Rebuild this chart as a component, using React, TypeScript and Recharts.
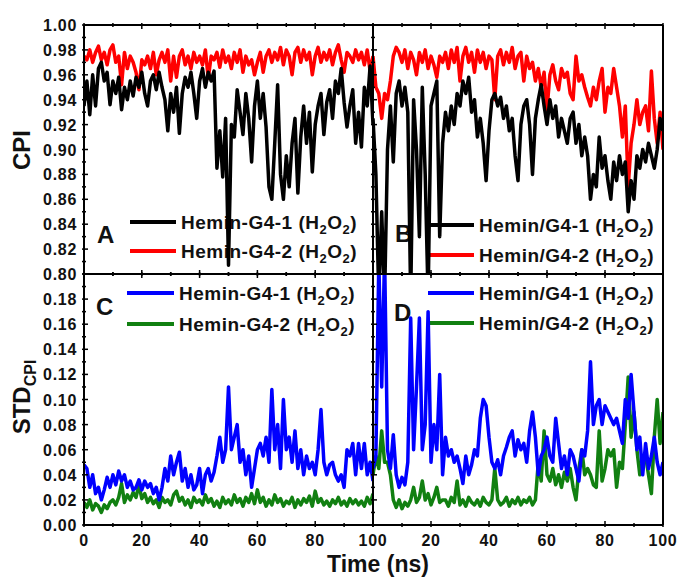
import { LineChart, Line, XAxis, YAxis } from "recharts";

// time axis, 1 ns steps
const timeNs = Array.from({ length: 101 }, (_, i) => i);

// panel A: CPI, Hemin-G4
const cpiHeminG4_1 = [
  0.935, 0.955, 0.928, 0.96, 0.935, 0.965, 0.97, 0.955, 0.962, 0.936,
  0.955, 0.945, 0.958, 0.932, 0.95, 0.94, 0.955, 0.943, 0.958, 0.95,
  0.962, 0.945, 0.935, 0.955, 0.96, 0.948, 0.962, 0.95, 0.94, 0.915,
  0.945, 0.93, 0.95, 0.913, 0.945, 0.958, 0.95, 0.962, 0.945, 0.925,
  0.955, 0.965, 0.95, 0.962, 0.955, 0.963, 0.885, 0.915, 0.878, 0.925,
  0.807, 0.92, 0.91, 0.948, 0.93, 0.912, 0.945, 0.925, 0.89, 0.935,
  0.955, 0.925, 0.945, 0.918, 0.87, 0.86, 0.905, 0.952, 0.88, 0.86,
  0.895, 0.87, 0.905, 0.925, 0.865, 0.91, 0.935, 0.905, 0.93, 0.882,
  0.92, 0.935, 0.945, 0.912, 0.938, 0.948, 0.925, 0.955, 0.945, 0.965,
  0.938, 0.918, 0.935, 0.948, 0.905, 0.93, 0.902, 0.95, 0.935, 0.967,
  0.92,
];
const cpiHeminG4_2 = [
  0.975, 0.972, 0.98, 0.97, 0.978, 0.983, 0.972, 0.978, 0.968, 0.98,
  0.984, 0.97, 0.975, 0.952, 0.978, 0.965, 0.975, 0.97, 0.962, 0.948,
  0.972, 0.968, 0.975, 0.965, 0.978, 0.96, 0.972, 0.978, 0.97, 0.98,
  0.955, 0.975, 0.958, 0.975, 0.98, 0.968, 0.975, 0.965, 0.978, 0.97,
  0.975, 0.968, 0.98, 0.957, 0.975, 0.972, 0.978, 0.966, 0.98, 0.97,
  0.975, 0.965, 0.978, 0.97, 0.98, 0.962, 0.975, 0.968, 0.972, 0.96,
  0.97, 0.978, 0.962, 0.975, 0.98, 0.97, 0.978, 0.972, 0.982, 0.968,
  0.98, 0.975, 0.96, 0.978, 0.982, 0.97, 0.98, 0.972, 0.978, 0.96,
  0.975, 0.982, 0.97, 0.978, 0.972, 0.98, 0.968, 0.978, 0.984, 0.972,
  0.962, 0.978, 0.975, 0.97, 0.98, 0.972, 0.978, 0.968, 0.98, 0.963,
  0.975,
];

// panel B: CPI, Hemin/G4
const cpiHeminSlashG4_1 = [
  0.925, 0.88, 0.78, 0.85, 0.78, 0.9, 0.935, 0.89, 0.945, 0.955,
  0.935, 0.95, 0.93, 0.78, 0.94, 0.9, 0.83, 0.95, 0.88, 0.78,
  0.935, 0.945, 0.955, 0.83, 0.905, 0.93, 0.915, 0.935, 0.92, 0.945,
  0.935, 0.955, 0.945, 0.958, 0.93, 0.94, 0.91, 0.925, 0.905, 0.875,
  0.915, 0.94, 0.945, 0.935, 0.942, 0.925, 0.935, 0.915, 0.925, 0.895,
  0.875, 0.92, 0.935, 0.94, 0.92, 0.88, 0.925, 0.94, 0.952, 0.935,
  0.92, 0.94, 0.925, 0.935, 0.91, 0.925, 0.915, 0.905, 0.925, 0.93,
  0.905, 0.92, 0.895, 0.91, 0.895, 0.86, 0.88, 0.87, 0.91, 0.885,
  0.895, 0.875, 0.86, 0.89, 0.875, 0.895, 0.88, 0.89, 0.85, 0.875,
  0.86, 0.895, 0.885, 0.9, 0.89, 0.905, 0.895, 0.885, 0.9, 0.925,
  0.915,
];
const cpiHeminSlashG4_2 = [
  0.975, 0.95, 0.945, 0.925, 0.945, 0.94, 0.955, 0.975, 0.982, 0.978,
  0.97, 0.98, 0.965, 0.978, 0.972, 0.96, 0.978, 0.97, 0.98, 0.965,
  0.975, 0.968, 0.958, 0.975, 0.97, 0.978, 0.965, 0.98, 0.97, 0.982,
  0.955, 0.975, 0.982, 0.97, 0.978, 0.962, 0.98, 0.97, 0.978, 0.965,
  0.975, 0.972, 0.94, 0.975, 0.98, 0.968, 0.978, 0.97, 0.982, 0.965,
  0.975, 0.978, 0.955, 0.975, 0.965, 0.97, 0.955, 0.965, 0.95, 0.962,
  0.932, 0.96, 0.968, 0.955, 0.948, 0.965, 0.958, 0.962, 0.945, 0.94,
  0.975, 0.955, 0.96, 0.95, 0.942, 0.935, 0.95, 0.94, 0.955, 0.965,
  0.93, 0.95, 0.945, 0.965, 0.95, 0.935, 0.91, 0.935, 0.87, 0.905,
  0.92, 0.94, 0.92, 0.93, 0.935, 0.915, 0.963, 0.925, 0.905, 0.93,
  0.9,
];

// panel C: STD of CPI, Hemin-G4
const stdHeminG4_1 = [
  0.048, 0.045, 0.03, 0.04, 0.025, 0.03, 0.02, 0.028, 0.038, 0.03,
  0.04, 0.032, 0.043, 0.035, 0.04, 0.03, 0.035, 0.028, 0.03, 0.036,
  0.028, 0.035, 0.03, 0.033, 0.025, 0.03, 0.02, 0.03, 0.045, 0.035,
  0.055, 0.04, 0.05, 0.058, 0.035, 0.045, 0.03, 0.04, 0.028, 0.032,
  0.045, 0.025, 0.04, 0.045, 0.035, 0.042, 0.055, 0.07, 0.05, 0.06,
  0.11, 0.06, 0.07, 0.08, 0.05, 0.06, 0.04, 0.055, 0.03, 0.045,
  0.06, 0.065, 0.055, 0.07, 0.05, 0.108, 0.06, 0.08, 0.045, 0.1,
  0.06, 0.07, 0.05, 0.075, 0.045, 0.06, 0.04, 0.055, 0.045, 0.05,
  0.04, 0.06, 0.092, 0.05, 0.04, 0.048, 0.05, 0.04, 0.035, 0.04,
  0.03, 0.06, 0.055, 0.065, 0.04, 0.065, 0.045, 0.065, 0.04, 0.05,
  0.035,
];
const stdHeminG4_2 = [
  0.018, 0.014, 0.02, 0.012, 0.017, 0.015, 0.01, 0.016, 0.013, 0.018,
  0.02, 0.016, 0.022, 0.033, 0.018, 0.024, 0.02, 0.026, 0.022, 0.032,
  0.021, 0.025, 0.018, 0.022, 0.017, 0.02, 0.014, 0.022, 0.018, 0.02,
  0.016, 0.024, 0.027, 0.019, 0.022, 0.016, 0.02, 0.014, 0.022, 0.018,
  0.02, 0.016, 0.024, 0.018, 0.021, 0.015, 0.019, 0.014, 0.022, 0.017,
  0.02, 0.016, 0.024, 0.018, 0.021, 0.015, 0.022, 0.018, 0.025, 0.017,
  0.028, 0.018, 0.022, 0.015, 0.02, 0.016, 0.024, 0.018, 0.021, 0.015,
  0.019, 0.017, 0.022, 0.014, 0.02, 0.016, 0.021, 0.018, 0.023, 0.015,
  0.027, 0.018, 0.021, 0.016, 0.019, 0.015, 0.02, 0.017, 0.022, 0.016,
  0.019, 0.015, 0.021, 0.017, 0.02, 0.016, 0.019, 0.015, 0.022, 0.017,
  0.025,
];

// panel D: STD of CPI, Hemin/G4
const stdHeminSlashG4_1 = [
  0.045, 0.055, 0.21, 0.11, 0.215, 0.06, 0.045, 0.072, 0.04, 0.03,
  0.038, 0.032, 0.05, 0.165, 0.06, 0.11, 0.165, 0.06, 0.08, 0.17,
  0.05, 0.08, 0.06, 0.12, 0.04, 0.07, 0.055, 0.06, 0.05, 0.055,
  0.045, 0.033, 0.055, 0.04, 0.048, 0.06, 0.055, 0.085, 0.1, 0.095,
  0.07, 0.05, 0.045, 0.052, 0.04, 0.055, 0.062, 0.07, 0.075, 0.055,
  0.068, 0.06, 0.065, 0.05, 0.075, 0.09, 0.07, 0.04, 0.055, 0.06,
  0.07, 0.055, 0.05, 0.085, 0.065, 0.045, 0.055, 0.04, 0.06, 0.055,
  0.045, 0.035, 0.06, 0.055, 0.075, 0.13, 0.08, 0.095, 0.1, 0.08,
  0.095, 0.09, 0.085, 0.08, 0.085, 0.075, 0.065, 0.1, 0.085, 0.12,
  0.09, 0.06, 0.07, 0.04, 0.065, 0.045, 0.055, 0.07, 0.05, 0.04,
  0.05,
];
const stdHeminSlashG4_2 = [
  0.04, 0.055, 0.045, 0.075, 0.05, 0.05, 0.04, 0.02, 0.014, 0.02,
  0.013, 0.018, 0.015, 0.02, 0.03, 0.018, 0.022, 0.035, 0.02, 0.025,
  0.016, 0.022, 0.03, 0.018, 0.02, 0.02, 0.015, 0.022, 0.018, 0.035,
  0.016, 0.02, 0.015, 0.022, 0.018, 0.016, 0.02, 0.015, 0.022, 0.018,
  0.016, 0.02, 0.045, 0.02, 0.016, 0.018, 0.022, 0.015, 0.02, 0.017,
  0.022, 0.016, 0.02, 0.018, 0.022, 0.016, 0.02, 0.05, 0.035, 0.075,
  0.04, 0.035, 0.045, 0.032, 0.04, 0.03, 0.042, 0.035, 0.045, 0.03,
  0.02, 0.045, 0.06, 0.04, 0.045, 0.04, 0.032, 0.03, 0.075, 0.035,
  0.045, 0.06, 0.055, 0.06, 0.03, 0.05, 0.045, 0.08, 0.118, 0.07,
  0.09, 0.06, 0.04, 0.05, 0.055, 0.04, 0.025, 0.07, 0.1, 0.065,
  0.09,
];

// ticks
const timeTicks = [0, 10, 20, 30, 40, 50, 60, 70, 80, 90, 100];
const cpiTicks = [
  0.8, 0.81, 0.82, 0.83, 0.84, 0.85, 0.86, 0.87, 0.88, 0.89, 0.9,
  0.91, 0.92, 0.93, 0.94, 0.95, 0.96, 0.97, 0.98, 0.99, 1.0,
];
const stdTicks = [
  0, 0.01, 0.02, 0.03, 0.04, 0.05, 0.06, 0.07, 0.08, 0.09, 0.1,
  0.11, 0.12, 0.13, 0.14, 0.15, 0.16, 0.17, 0.18, 0.19, 0.2,
];
const cpiLabels = [0.8, 0.82, 0.84, 0.86, 0.88, 0.9, 0.92, 0.94, 0.96, 0.98, 1.0];
const stdLabels = [0, 0.02, 0.04, 0.06, 0.08, 0.1, 0.12, 0.14, 0.16, 0.18];
const timeLabelsLeft = [0, 20, 40, 60, 80, 100];
const timeLabelsRight = [20, 40, 60, 80, 100];

const W = 679;
const H = 578;
const FONT = "'Liberation Sans', Arial, sans-serif";

const isMajorY = (v: number) => Math.round(v * 100) % 2 === 0;

function makeBottomTick(labels: number[]) {
  return (props: any) => {
    const { x, y, payload } = props;
    const v = payload.value;
    const major = v % 20 === 0;
    return (
      <g>
        <line x1={x} x2={x} y1={y} y2={y - (major ? 6 : 4)} stroke="#000" strokeWidth={1.5} />
        {labels.includes(v) && (
          <text x={x} y={y + 19} textAnchor="middle" fontFamily={FONT} fontWeight="bold" fontSize={16} letterSpacing={0.7} fill="#111">
            {v}
          </text>
        )}
      </g>
    );
  };
}

const topTick = (props: any) => {
  const { x, y, payload } = props;
  const major = payload.value % 20 === 0;
  return <line x1={x} x2={x} y1={y} y2={y + (major ? 6 : 4)} stroke="#000" strokeWidth={1.5} />;
};

function makeLeftTick(labels: number[]) {
  return (props: any) => {
    const { x, y, payload } = props;
    const v = payload.value;
    const major = isMajorY(v);
    const show = labels.some((l) => Math.abs(l - v) < 1e-6);
    return (
      <g>
        <line x1={x} x2={x + (major ? 6 : 4)} y1={y} y2={y} stroke="#000" strokeWidth={1.5} />
        {show && (
          <text x={x - 5} y={y + 6} textAnchor="end" fontFamily={FONT} fontWeight="bold" fontSize={16} letterSpacing={0.7} fill="#111">
            {v.toFixed(2)}
          </text>
        )}
      </g>
    );
  };
}

const rightTick = (props: any) => {
  const { x, y, payload } = props;
  const major = isMajorY(payload.value);
  return <line x1={x} x2={x - (major ? 6 : 4)} y1={y} y2={y} stroke="#000" strokeWidth={1.5} />;
};

type PanelProps = {
  x0: number;
  x1: number;
  y0: number;
  y1: number;
  a: number[];
  b: number[];
  colorA: string;
  colorB: string;
  yDomain: [number, number];
  yTicks: number[];
  yLabels: number[];
  xLabels: number[];
};

const axisStroke = { stroke: "#000", strokeWidth: 2 };

function Panel(p: PanelProps) {
  const rows = timeNs.map((t, i) => ({ t, a: p.a[i], b: p.b[i] }));
  // axes are 1px thick boxes, so the margins give room for them
  return (
    <div style={{ position: "absolute", left: 0, top: 0 }}>
      <LineChart
        width={W}
        height={H}
        data={rows}
        margin={{ top: p.y0 - 1, left: p.x0 - 1, right: W - p.x1 - 1, bottom: H - p.y1 - 1 }}
      >
        <XAxis
          xAxisId="bottom"
          dataKey="t"
          type="number"
          domain={[0, 100]}
          ticks={timeTicks}
          height={1}
          tickSize={0}
          tickLine={false}
          axisLine={axisStroke}
          tick={makeBottomTick(p.xLabels)}
          interval={0}
          allowDataOverflow
        />
        <XAxis
          xAxisId="top"
          orientation="top"
          dataKey="t"
          type="number"
          domain={[0, 100]}
          ticks={timeTicks}
          height={1}
          tickSize={0}
          tickLine={false}
          axisLine={axisStroke}
          tick={topTick}
          interval={0}
        />
        <YAxis
          yAxisId="left"
          type="number"
          domain={p.yDomain}
          ticks={p.yTicks}
          width={1}
          tickSize={0}
          tickLine={false}
          axisLine={axisStroke}
          tick={makeLeftTick(p.yLabels)}
          interval={0}
          allowDataOverflow
        />
        <YAxis
          yAxisId="right"
          orientation="right"
          type="number"
          domain={p.yDomain}
          ticks={p.yTicks}
          width={1}
          tickSize={0}
          tickLine={false}
          axisLine={axisStroke}
          tick={rightTick}
          interval={0}
        />
        <Line
          xAxisId="bottom"
          yAxisId="left"
          dataKey="b"
          type="linear"
          stroke={p.colorB}
          strokeWidth={3.5}
          strokeLinejoin="round"
          dot={false}
          isAnimationActive={false}
        />
        <Line
          xAxisId="bottom"
          yAxisId="left"
          dataKey="a"
          type="linear"
          stroke={p.colorA}
          strokeWidth={3.5}
          strokeLinejoin="round"
          dot={false}
          isAnimationActive={false}
        />
      </LineChart>
    </div>
  );
}

function LegendLabel({ x, y, name }: { x: number; y: number; name: string }) {
  return (
    <text x={x} y={y} fontFamily={FONT} fontWeight="bold" fontSize={19} letterSpacing={0.5} fill="#111">
      {name} (H
      <tspan fontSize={13} dy={5}>2</tspan>
      <tspan dy={-5}>O</tspan>
      <tspan fontSize={13} dy={5}>2</tspan>
      <tspan dy={-5}>)</tspan>
    </text>
  );
}

function LegendRow({ x0, x1, y, color, name }: { x0: number; x1: number; y: number; color: string; name: string }) {
  return (
    <g>
      <line x1={x0} x2={x1} y1={y} y2={y} stroke={color} strokeWidth={4} />
      <LegendLabel x={x1 + 5} y={y + 7} name={name} />
    </g>
  );
}

const BLACK = "#000000";
const RED = "#ff0000";
const BLUE = "#0000ff";
const GREEN = "#118011";

export default function App() {
  const letter = { fontFamily: FONT, fontWeight: "bold" as const, fontSize: 24, fill: "#111" };
  return (
    <div style={{ position: "absolute", left: 0, top: 0, width: W, height: H, background: "#fff" }}>
      <svg width={W} height={H} style={{ position: "absolute", left: 0, top: 0 }}>
        <text x={97} y={243} {...letter}>A</text>
        <text x={395} y={242} {...letter}>B</text>
        <text x={96} y={315} {...letter}>C</text>
        <text x={394} y={321} {...letter}>D</text>

        <LegendRow x0={130} x1={176} y={222} color={BLACK} name="Hemin-G4-1" />
        <LegendRow x0={130} x1={176} y={251} color={RED} name="Hemin-G4-2" />
        <LegendRow x0={428} x1={474} y={225} color={BLACK} name="Hemin/G4-1" />
        <LegendRow x0={428} x1={474} y={255} color={RED} name="Hemin/G4-2" />
        <LegendRow x0={127} x1={174} y={293} color={BLUE} name="Hemin-G4-1" />
        <LegendRow x0={127} x1={174} y={324} color={GREEN} name="Hemin-G4-2" />
        <LegendRow x0={428} x1={474} y={293} color={BLUE} name="Hemin/G4-1" />
        <LegendRow x0={428} x1={474} y={323} color={GREEN} name="Hemin/G4-2" />

        <text
          transform="translate(30,150) rotate(-90)"
          textAnchor="middle"
          fontFamily={FONT}
          fontWeight="bold"
          fontSize={24}
          fill="#111"
        >
          CPI
        </text>
        <text
          transform="translate(30,397) rotate(-90)"
          textAnchor="middle"
          fontFamily={FONT}
          fontWeight="bold"
          fontSize={24}
          fill="#111"
        >
          STD
          <tspan fontSize={16} dy={6}>CPI</tspan>
        </text>
        <text x={378} y={572} textAnchor="middle" fontFamily={FONT} fontWeight="bold" fontSize={23} fill="#111">
          Time (ns)
        </text>
      </svg>

      <Panel x0={84} x1={373} y0={25} y1={274} a={cpiHeminG4_1} b={cpiHeminG4_2} colorA={BLACK} colorB={RED}
        yDomain={[0.8, 1.0]} yTicks={cpiTicks} yLabels={cpiLabels} xLabels={[]} />
      <Panel x0={373} x1={663} y0={25} y1={274} a={cpiHeminSlashG4_1} b={cpiHeminSlashG4_2} colorA={BLACK} colorB={RED}
        yDomain={[0.8, 1.0]} yTicks={cpiTicks} yLabels={[]} xLabels={[]} />
      <Panel x0={84} x1={373} y0={274} y1={525} a={stdHeminG4_1} b={stdHeminG4_2} colorA={BLUE} colorB={GREEN}
        yDomain={[0, 0.2]} yTicks={stdTicks} yLabels={stdLabels} xLabels={timeLabelsLeft} />
      <Panel x0={373} x1={663} y0={274} y1={525} a={stdHeminSlashG4_1} b={stdHeminSlashG4_2} colorA={BLUE} colorB={GREEN}
        yDomain={[0, 0.2]} yTicks={stdTicks} yLabels={[]} xLabels={timeLabelsRight} />
    </div>
  );
}
